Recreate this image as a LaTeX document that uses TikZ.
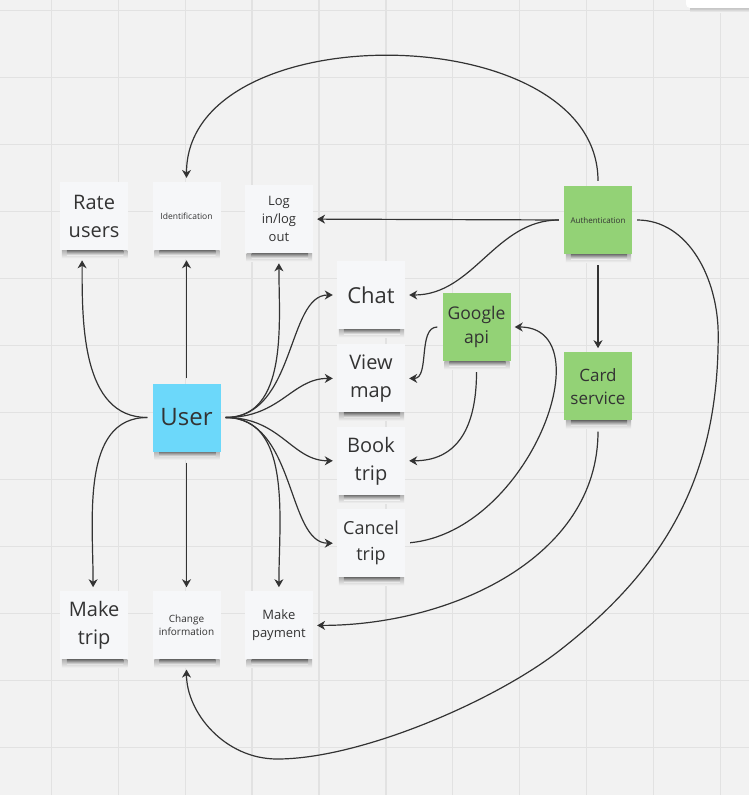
\documentclass[tikz,border=0pt]{standalone}
\usepackage{fontspec}
\setmainfont{Open Sans}
\usetikzlibrary{positioning,arrows.meta}
\pgfdeclarelayer{bg}
\pgfsetlayers{bg,main}
\definecolor{paper}{HTML}{F2F2F2}
\definecolor{gridcol}{HTML}{E2E2E2}
\definecolor{note}{HTML}{F6F7F9}
\definecolor{leaf}{HTML}{93D276}
\definecolor{sky}{HTML}{6CD8FA}
\definecolor{ink}{HTML}{333333}
\tikzset{
	>={Stealth[length=8pt,width=9pt,inset=2.5pt]}
}

\begin{document}
\begin{tikzpicture}[
	x = 1pt, y = -1pt,
	every node/.style = {
		text = ink
	},
	sticky/.style = {
		fill = note,
		minimum width = 68pt,
		minimum height = 68pt,
		inner sep = 0pt,
		align = center
	},
	green/.style = {
		sticky,
		fill = leaf
	},
	blue/.style = {
		sticky,
		fill = sky
	},
	huge/.style = {font = \fontsize{24}{30}\selectfont},
	large/.style = {font = \fontsize{20}{28}\selectfont},
	mid/.style = {font = \fontsize{17}{23}\selectfont},
	small/.style = {font = \fontsize{13}{18}\selectfont},
	tiny/.style = {font = \fontsize{10}{13.5}\selectfont},
	micro/.style = {font = \fontsize{8.5}{11}\selectfont},
	gridline/.style = {
		draw = gridcol,
		line width = 1.2pt
	},
	link/.style = {
		->,
		draw = ink,
		line width = 1.2pt,
		shorten <= 5pt,
		shorten >= 4pt
	},
	frombelow/.style = {shorten <= 11pt},
	tobelow/.style = {shorten >= 10pt}
	]
	
	\useasboundingbox (0,0) rectangle (749,795);
	
	% board
	\begin{pgfonlayer}{bg}
		\fill[paper] (0,0) rectangle (749,795);
		\foreach \i in {0,...,10}
			\draw[gridline] (51.3+66.93*\i,0) -- (51.3+66.93*\i,795);
		\foreach \j in {0,...,11}
			\draw[gridline] (0,10.8+67*\j) -- (749,10.8+67*\j);
		\shade[top color=black!25, bottom color=paper] (690,8) rectangle (749,12);
		\fill[white, rounded corners=4pt] (686,-6) rectangle (755,8);
	\end{pgfonlayer}
	
	% user and the notes round it
	\node (user) [blue, huge] at (186.5,417.5) {User};
	
	\node (idn) [sticky, micro, above = 133pt of user] {Identification};
	\node (rate) [sticky, large, left = 24pt of idn] {Rate\\users};
	\node (login) [sticky, small, right = 24pt of idn, yshift = -3pt] {Log\\in/log\\out};
	
	\node (change) [sticky, tiny, below = 139.5pt of user] {Change\\information};
	\node (maketrip) [sticky, large, left = 24pt of change] {Make\\trip};
	\node (payment) [sticky, small, right = 24pt of change] {Make\\payment};
	
	\node (chat) [sticky, font = \fontsize{22}{28}\selectfont] at (371,295) {Chat};
	\node (view) [sticky, large, below = 15pt of chat] {View\\map};
	\node (book) [sticky, large, below = 14pt of view] {Book\\trip};
	\node (cancel) [sticky, font = \fontsize{18}{26}\selectfont, below = 14pt of book] {Cancel\\trip};
	
	% services
	\node (google) [green, font = \fontsize{17.5}{24}\selectfont] at (476.5,327) {Google\\api};
	\node (auth) [green, font = \fontsize{8}{10}\selectfont] at (598,220) {Authentication};
	\node (card) [green, mid, below = 98pt of auth] {Card\\service};
	
	% shadows under the notes
	\begin{pgfonlayer}{bg}
		\foreach \n in {user,idn,rate,login,change,maketrip,payment,chat,view,book,cancel,google,auth,card} {
			\shade[top color=black!30, bottom color=paper]
				([xshift=2pt]\n.south west) rectangle ([xshift=-1pt,yshift=-8pt]\n.south east);
			\shade[top color=black!55, bottom color=paper]
				([xshift=7pt]\n.south west) rectangle ([xshift=-5pt,yshift=-5pt]\n.south east);
		}
	\end{pgfonlayer}
	
	% user links
	\draw[link, tobelow] (user.north) -- (idn.south);
	\draw[link, frombelow] (user.south) -- (change.north);
	\draw[link, tobelow] (user.west) to[out=180,in=-90] ([xshift=-12pt]rate.south);
	\draw[link] (user.west) to[out=180,in=90] ([xshift=-1pt]maketrip.north);
	\draw[link, tobelow] (user.east) to[out=0,in=-90] (login.south);
	\draw[link] (user.east) to[out=0,in=90] (payment.north);
	\draw[link] (user.east) .. controls +(75,0) and +(-50,0) .. (chat.west);
	\draw[link] (user.east) .. controls +(60,0) and +(-45,0) .. (view.west);
	\draw[link] (user.east) .. controls +(60,0) and +(-45,0) .. (book.west);
	\draw[link] (user.east) .. controls +(75,0) and +(-50,0) .. (cancel.west);
	
	% authentication links
	\draw[link] (auth.north) to[out=90,in=90,looseness=1.05] (idn.north);
	\draw[link] (auth.west) -- (login.east);
	\draw[link] (auth.west) to[out=180,in=0] (chat.east);
	\draw[link, frombelow] (auth.south) -- (card.north);
	\draw[link, tobelow] (auth.east) to[out=0,in=90] ++(86,115)
		to[out=-90,in=38] ++(-158,315)
		to[out=218,in=0,looseness=.7] ++(-283,109)
		to[out=180,in=-90] (change.south);
	
	% google api and card service
	\draw[link] (google.west) to[out=180,in=0] (view.east);
	\draw[link, frombelow] (google.south) to[out=-90,in=0,looseness=1.2] (book.east);
	\draw[link] (cancel.east) .. controls +(125,-12) and +(94,0) .. (google.east);
	\draw[link, frombelow] (card.south) to[out=-90,in=0] (payment.east);
	
\end{tikzpicture}
\end{document}
